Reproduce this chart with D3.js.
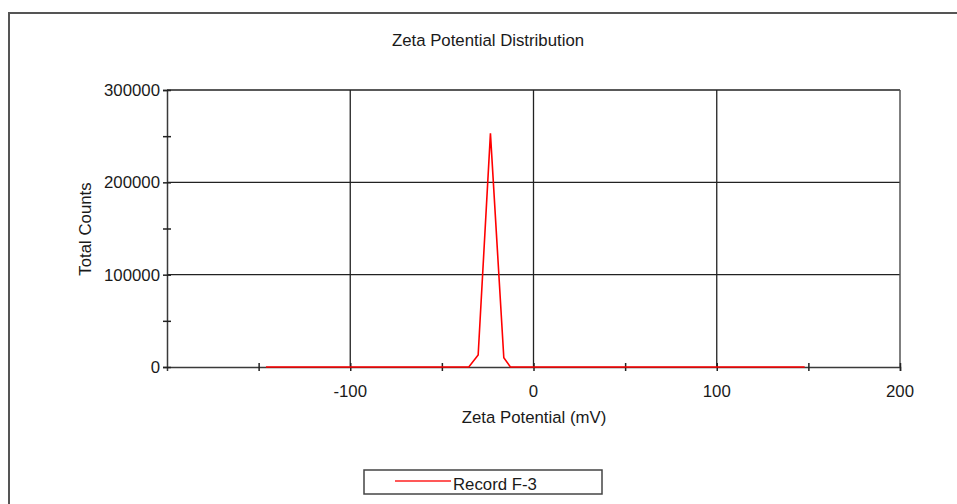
<!DOCTYPE html>
<html>
<head>
<meta charset="utf-8">
<script src="https://cdn.jsdelivr.net/npm/d3@7"></script>
<style>
  html, body { margin: 0; padding: 0; background: #fff; }
  svg { display: block; }
  text { font-family: "Liberation Sans", Arial, sans-serif; fill: #1a1a1a; }
</style>
</head>
<body>
<svg id="chart" width="957" height="504"></svg>
<script>
// ---- data ----
const zeta = [-146, -35.3, -30.2, -23.5, -16.2, -12.6, 148];
const counts = [0, 0, 13000, 253000, 10000, 0, 0];
const xTicks = [-100, 0, 100, 200];
const xMinorTicks = [-150, -100, -50, 0, 50, 100, 150, 200];
const yTicks = [0, 100000, 200000, 300000];
const yMinorTicks = [0, 50000, 100000, 150000, 200000, 250000, 300000];
const seriesName = "Record F-3";
const title = "Zeta Potential Distribution";
const xLabel = "Zeta Potential (mV)";
const yLabel = "Total Counts";

// ---- layout ----
const svg = d3.select("#chart");
const plot = { left: 167, right: 900, top: 90, bottom: 367 };
const x = d3.scaleLinear().domain([-200, 200]).range([plot.left, plot.right]);
const y = d3.scaleLinear().domain([0, 300000]).range([plot.bottom, plot.top]);
const axisColor = "#3a3a3a";
const fs = 16.8;

// outer frame
svg.append("path")
  .attr("d", "M9,504 L9,13 L957,13")
  .attr("fill", "none").attr("stroke", "#555").attr("stroke-width", 2);

// title
svg.append("text").attr("x", 488).attr("y", 46).attr("text-anchor", "middle")
  .style("font-size", fs + "px").text(title);

// gridlines
const g = svg.append("g");
g.selectAll(".vg").data(xTicks.filter(d => d > -200 && d < 200)).enter().append("line")
  .attr("x1", d => x(d)).attr("x2", d => x(d))
  .attr("y1", plot.top).attr("y2", plot.bottom)
  .attr("stroke", "#222").attr("stroke-width", 1.3);
g.selectAll(".hg").data(yTicks.filter(d => d > 0)).enter().append("line")
  .attr("x1", plot.left).attr("x2", plot.right)
  .attr("y1", d => y(d)).attr("y2", d => y(d))
  .attr("stroke", "#222").attr("stroke-width", 1.3);
// right border
g.append("line").attr("x1", plot.right).attr("x2", plot.right)
  .attr("y1", plot.top).attr("y2", plot.bottom)
  .attr("stroke", "#555").attr("stroke-width", 1.5);

// x axis
const xAxis = d3.axisBottom(x).tickValues(xMinorTicks).tickSize(4).tickFormat("");
const xg = svg.append("g").attr("transform", `translate(0,${plot.bottom})`).call(xAxis);
xg.select(".domain").attr("stroke", axisColor).attr("stroke-width", 1.5);
xg.selectAll(".tick line").attr("y1", -4).attr("stroke", "#222").attr("stroke-width", 1.5);
svg.selectAll(".xlab").data(xTicks).enter().append("text")
  .attr("x", d => x(d)).attr("y", plot.bottom + 30)
  .attr("text-anchor", "middle").style("font-size", fs + "px")
  .text(d => d);

// y axis
const yAxis = d3.axisLeft(y).tickValues(yMinorTicks).tickSize(4).tickFormat("");
const yg = svg.append("g").attr("transform", `translate(${plot.left},0)`).call(yAxis);
yg.select(".domain").attr("stroke", axisColor).attr("stroke-width", 1.5);
yg.selectAll(".tick line").attr("x1", 4).attr("stroke", "#222").attr("stroke-width", 1.5);
svg.selectAll(".ylab").data(yTicks).enter().append("text")
  .attr("x", plot.left - 7).attr("y", d => y(d) + 6)
  .attr("text-anchor", "end").style("font-size", fs + "px")
  .text(d => d);

// axis titles
svg.append("text").attr("x", 534).attr("y", 423).attr("text-anchor", "middle")
  .style("font-size", fs + "px").text(xLabel);
svg.append("text").attr("transform", `translate(91,229) rotate(-90)`)
  .attr("text-anchor", "middle").style("font-size", fs + "px").text(yLabel);

// data line
const pts = zeta.map((d, i) => [d, counts[i]]);
svg.append("path").datum(pts)
  .attr("d", d3.line().x(d => x(d[0])).y(d => y(d[1])))
  .attr("fill", "none").attr("stroke", "#ff0000").attr("stroke-width", 1.6)
  .attr("stroke-linejoin", "miter");

// legend
svg.append("rect").attr("x", 364).attr("y", 470).attr("width", 238).attr("height", 24)
  .attr("fill", "#fff").attr("stroke", "#444").attr("stroke-width", 1.5);
svg.append("line").attr("x1", 395).attr("x2", 451).attr("y1", 481).attr("y2", 481)
  .attr("stroke", "#ff2020").attr("stroke-width", 1.6);
svg.append("text").attr("x", 453).attr("y", 490).style("font-size", fs + "px").text(seriesName);
</script>
</body>
</html>
